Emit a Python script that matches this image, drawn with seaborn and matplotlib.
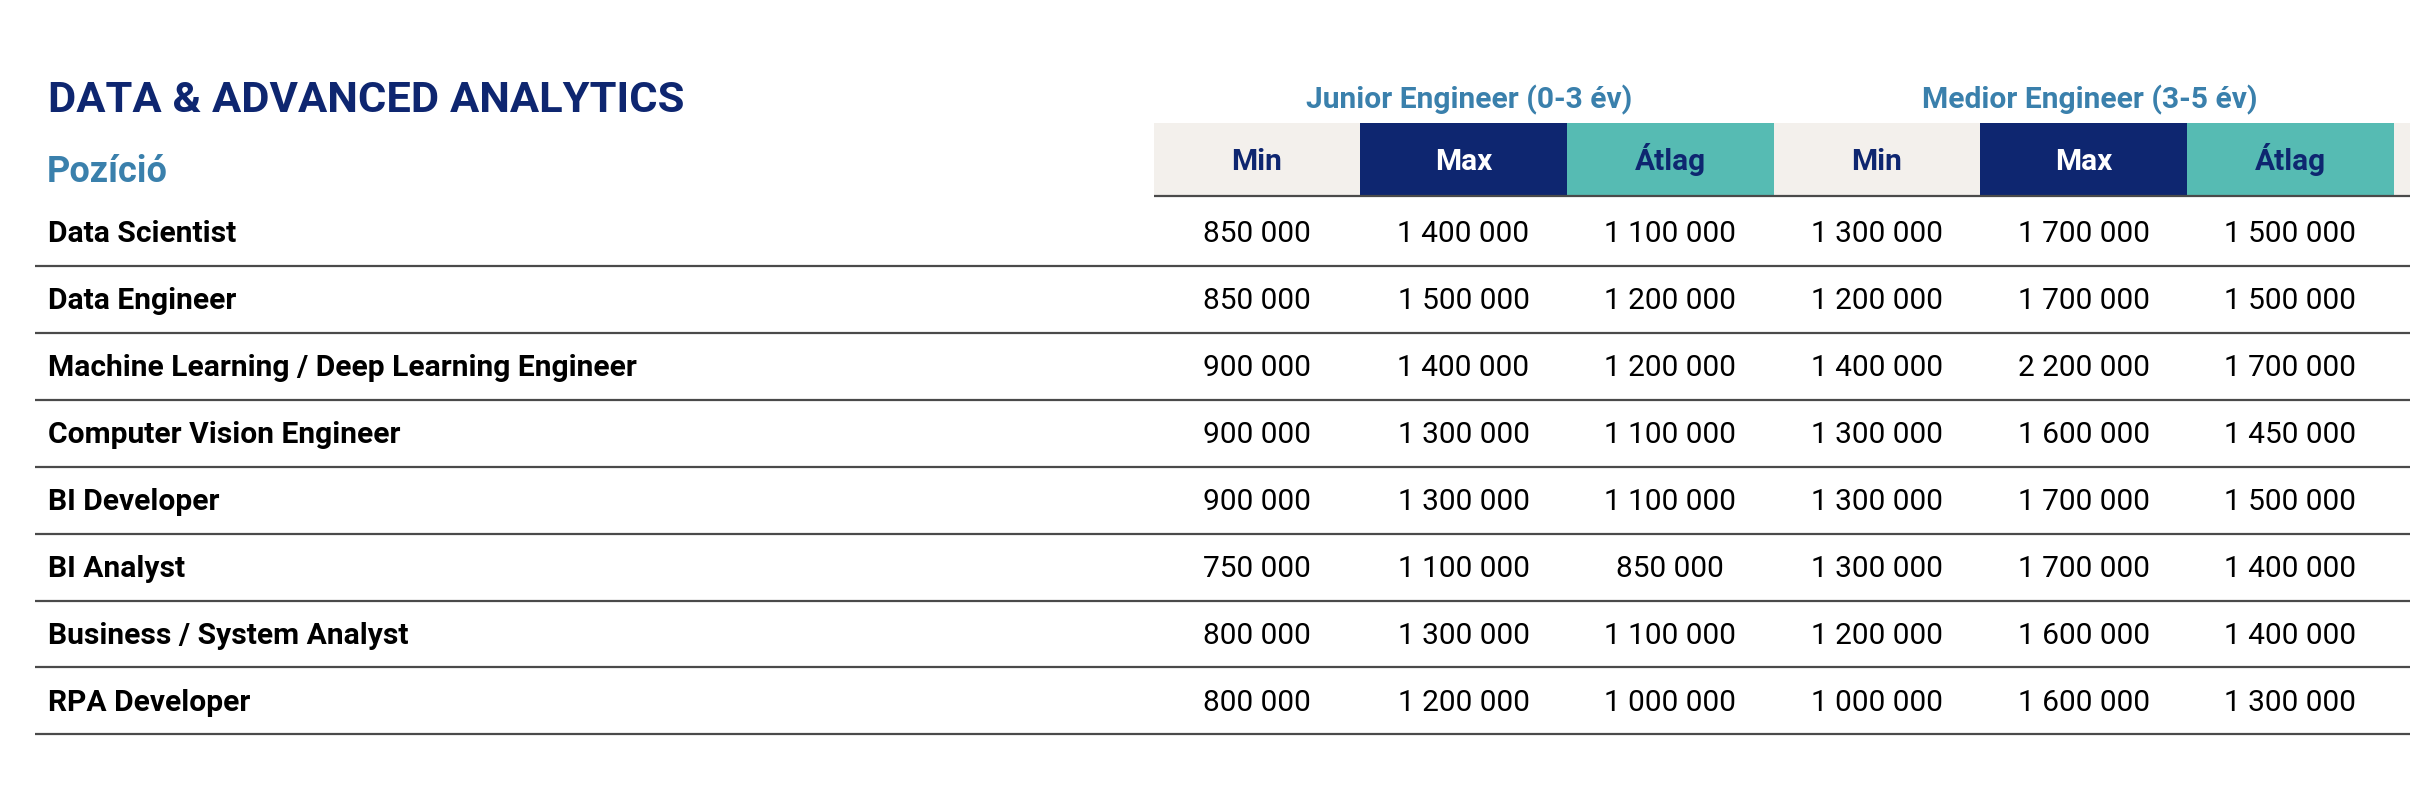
import matplotlib
matplotlib.use("Agg")
import matplotlib.pyplot as plt
from matplotlib.colors import ListedColormap
import seaborn as sns
import pandas as pd
import numpy as np

# ---------------- data ----------------
title = "DATA & ADVANCED ANALYTICS"
row_header = "Pozíció"
groups = ["Junior Engineer (0-3 év)", "Medior Engineer (3-5 év)"]
stats = ["Min", "Max", "Átlag"]
positions = [
    "Data Scientist",
    "Data Engineer",
    "Machine Learning / Deep Learning Engineer",
    "Computer Vision Engineer",
    "BI Developer",
    "BI Analyst",
    "Business / System Analyst",
    "RPA Developer",
]
junior_min = [850000, 850000, 900000, 900000, 900000, 750000, 800000, 800000]
junior_max = [1400000, 1500000, 1400000, 1300000, 1300000, 1100000, 1300000, 1200000]
junior_avg = [1100000, 1200000, 1200000, 1100000, 1100000, 850000, 1100000, 1000000]
medior_min = [1300000, 1200000, 1400000, 1300000, 1300000, 1300000, 1200000, 1000000]
medior_max = [1700000, 1700000, 2200000, 1600000, 1700000, 1700000, 1600000, 1600000]
medior_avg = [1500000, 1500000, 1700000, 1450000, 1500000, 1400000, 1400000, 1300000]

df = pd.DataFrame(
    np.column_stack([junior_min, junior_max, junior_avg, medior_min, medior_max, medior_avg]),
    index=positions,
)

# ---------------- style ----------------
sns.set_theme(style="white")
plt.rcParams["font.family"] = ["Roboto", "DejaVu Sans"]

NAVY = "#0e2670"
TEAL = "#56bbb3"
BEIGE = "#f3f0ec"
BLUE = "#3a80ac"
LINE = "#4a4a4a"

W, H = 2410, 794
DPI = 100
fig = plt.figure(figsize=(W / DPI, H / DPI), dpi=DPI)
fig.patch.set_facecolor("white")

col_x0 = 1153.5
col_w = 206.7
hdr_top, hdr_bot = 122.5, 194.5
n_cols_drawn = 7  # 6 + a partially visible one at right edge

# header band via seaborn heatmap
codes = np.array([[i % 3 for i in range(n_cols_drawn)]])
hax = fig.add_axes([col_x0 / W, 1 - hdr_bot / H, n_cols_drawn * col_w / W, (hdr_bot - hdr_top) / H])
sns.heatmap(codes, ax=hax, cmap=ListedColormap([BEIGE, NAVY, TEAL]), cbar=False,
            vmin=-0.5, vmax=2.5, xticklabels=False, yticklabels=False,
            linewidths=0)
hax.axis("off")
hax.set_zorder(1)

ax = fig.add_axes([0, 0, 1, 1])
ax.set_xlim(0, W)
ax.set_ylim(H, 0)
ax.axis("off")
ax.patch.set_alpha(0)
ax.set_zorder(2)

def fmt(v):
    return f"{int(v):,}".replace(",", " ")

# title & headers
ax.text(48, 112, title, fontsize=31.3, fontweight="bold", color=NAVY, va="baseline", ha="left")
ax.text(47, 182.5, row_header, fontsize=26, fontweight="bold", color=BLUE, va="baseline", ha="left")
for g, name in enumerate(groups):
    cx = col_x0 + col_w * (3 * g + 1.5)
    ax.text(cx + 6, 108.5, name, fontsize=21.6, fontweight="bold", color=BLUE, va="baseline", ha="center")
    for s, st in enumerate(stats):
        cx = col_x0 + col_w * (3 * g + s + 0.5)
        ax.text(cx, 170, st, fontsize=21.5, fontweight="bold",
                color="white" if s == 1 else NAVY, va="baseline", ha="center")

# header underline
ax.plot([col_x0, W], [195.5, 195.5], color=LINE, lw=1.6, solid_capstyle="butt")

# rows
row_base0 = 242.5
row_h = 66.9
for r, pos in enumerate(df.index):
    yb = row_base0 + r * row_h
    ax.text(48, yb, pos, fontsize=21.6, fontweight="bold", color="black", va="baseline", ha="left")
    for c in range(df.shape[1]):
        cx = col_x0 + col_w * (c + 0.5)
        ax.text(cx, yb, fmt(df.iloc[r, c]), fontsize=21.5, color="black", va="baseline", ha="center")
    yl = yb + 23.5
    ax.plot([35, W], [yl, yl], color=LINE, lw=1.6, solid_capstyle="butt")

fig.savefig("out.png", dpi=DPI, facecolor="white")
